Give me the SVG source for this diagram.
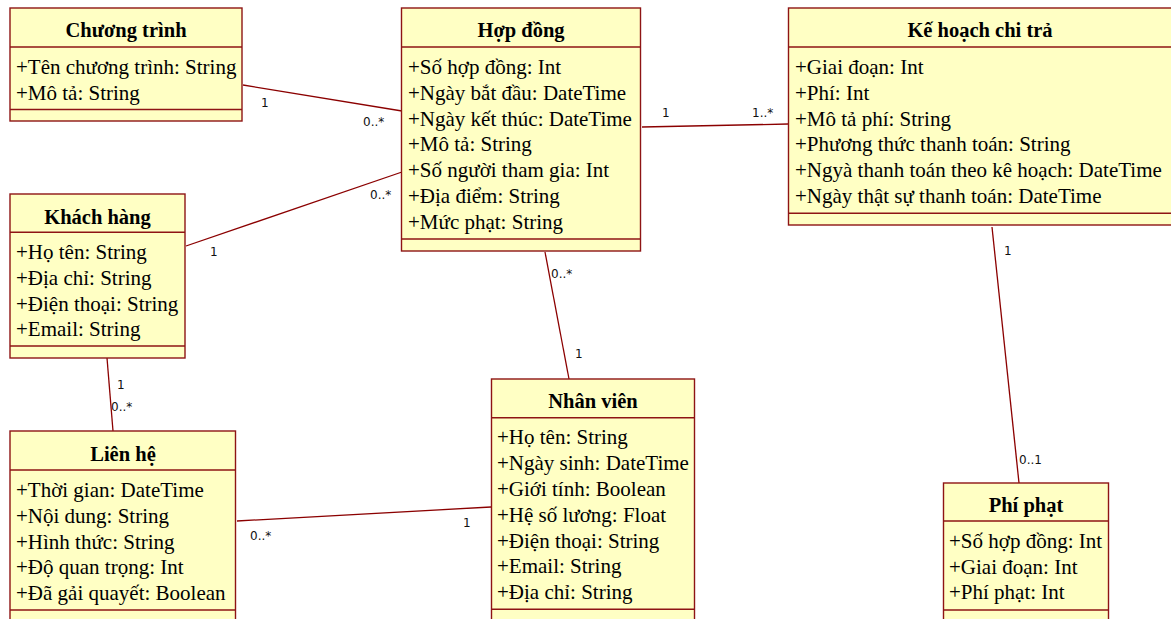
<svg xmlns="http://www.w3.org/2000/svg" width="1171" height="619" viewBox="0 0 1171 619">
  <style>
    .box { fill: #FFFFC4; stroke: #8E1414; stroke-width: 1.4; }
    .sep { stroke: #8E1414; stroke-width: 1.4; }
    .title { font-family: "Liberation Serif", "Times New Roman", serif; font-weight: bold; font-size: 20.5px; fill: #000; text-anchor: middle; }
    .attr { font-family: "Liberation Serif", "Times New Roman", serif; font-size: 21px; fill: #000; }
    .edge { stroke: #8B0000; stroke-width: 1.3; fill: none; }
    .mult { font-family: "DejaVu Sans", Verdana, sans-serif; font-size: 12px; fill: #111; }
  </style>
  <rect width="1171" height="619" fill="#fff"/>

  <!-- associations -->
  <g id="connectors">
    <line class="edge" x1="243" y1="85" x2="402" y2="111"/>
    <text class="mult" x="261" y="107">1</text>
    <text class="mult" x="363" y="126">0..*</text>

    <line class="edge" x1="186" y1="246" x2="402" y2="172"/>
    <text class="mult" x="210" y="256">1</text>
    <text class="mult" x="370" y="199">0..*</text>

    <line class="edge" x1="642" y1="127" x2="788" y2="124"/>
    <text class="mult" x="662" y="117">1</text>
    <text class="mult" x="752" y="117">1..*</text>

    <line class="edge" x1="545" y1="252" x2="569" y2="379"/>
    <text class="mult" x="551" y="278">0..*</text>
    <text class="mult" x="575" y="358">1</text>

    <line class="edge" x1="107" y1="358" x2="113" y2="431"/>
    <text class="mult" x="117" y="389">1</text>
    <text class="mult" x="111" y="411">0..*</text>

    <line class="edge" x1="237" y1="521" x2="491" y2="507"/>
    <text class="mult" x="250" y="540">0..*</text>
    <text class="mult" x="463" y="527">1</text>

    <line class="edge" x1="992" y1="227" x2="1019" y2="483"/>
    <text class="mult" x="1004" y="255">1</text>
    <text class="mult" x="1019" y="464">0..1</text>
  </g>

  <g id="chuong-trinh">
    <rect class="box" x="10" y="8" width="232" height="113"/>
    <line class="sep" x1="10" y1="47" x2="242" y2="47"/>
    <line class="sep" x1="10" y1="109.5" x2="242" y2="109.5"/>
    <text class="title" x="126" y="37">Chương trình</text>
    <text class="attr" x="16" y="74">+Tên chương trình: String</text>
    <text class="attr" x="16" y="100">+Mô tả: String</text>
  </g>

  <g id="hop-dong">
    <rect class="box" x="401.5" y="8" width="239" height="243"/>
    <line class="sep" x1="401.5" y1="47" x2="640.5" y2="47"/>
    <line class="sep" x1="401.5" y1="239" x2="640.5" y2="239"/>
    <text class="title" x="521" y="37">Hợp đồng</text>
    <text class="attr" x="408" y="74">+Số hợp đồng: Int</text>
    <text class="attr" x="408" y="99.8">+Ngày bắt đầu: DateTime</text>
    <text class="attr" x="408" y="125.6">+Ngày kết thúc: DateTime</text>
    <text class="attr" x="408" y="151.4">+Mô tả: String</text>
    <text class="attr" x="408" y="177.2">+Số người tham gia: Int</text>
    <text class="attr" x="408" y="203">+Địa điểm: String</text>
    <text class="attr" x="408" y="228.8">+Mức phạt: String</text>
  </g>

  <g id="ke-hoach-chi-tra">
    <rect class="box" x="788.5" y="8" width="390" height="217"/>
    <line class="sep" x1="788.5" y1="47" x2="1178" y2="47"/>
    <line class="sep" x1="788.5" y1="213.3" x2="1178" y2="213.3"/>
    <text class="title" x="980" y="37">Kế hoạch chi trả</text>
    <text class="attr" x="795" y="74">+Giai đoạn: Int</text>
    <text class="attr" x="795" y="99.8">+Phí: Int</text>
    <text class="attr" x="795" y="125.6">+Mô tả phí: String</text>
    <text class="attr" x="795" y="151.4">+Phương thức thanh toán: String</text>
    <text class="attr" x="795" y="177.2">+Ngyà thanh toán theo kê hoạch: DateTime</text>
    <text class="attr" x="795" y="203">+Ngày thật sự thanh toán: DateTime</text>
  </g>

  <g id="khach-hang">
    <rect class="box" x="10" y="194" width="175" height="164"/>
    <line class="sep" x1="10" y1="232.3" x2="185" y2="232.3"/>
    <line class="sep" x1="10" y1="346" x2="185" y2="346"/>
    <text class="title" x="97.5" y="223.5">Khách hàng</text>
    <text class="attr" x="16" y="259">+Họ tên: String</text>
    <text class="attr" x="16" y="284.8">+Địa chỉ: String</text>
    <text class="attr" x="16" y="310.6">+Điện thoại: String</text>
    <text class="attr" x="16" y="336.4">+Email: String</text>
  </g>

  <g id="lien-he">
    <rect class="box" x="10" y="431" width="225.5" height="195"/>
    <line class="sep" x1="10" y1="470" x2="235.5" y2="470"/>
    <line class="sep" x1="10" y1="610" x2="235.5" y2="610"/>
    <text class="title" x="123" y="460.5">Liên hệ</text>
    <text class="attr" x="16" y="497">+Thời gian: DateTime</text>
    <text class="attr" x="16" y="522.8">+Nội dung: String</text>
    <text class="attr" x="16" y="548.6">+Hình thức: String</text>
    <text class="attr" x="16" y="574.4">+Độ quan trọng: Int</text>
    <text class="attr" x="16" y="600.2">+Đã gải quayết: Boolean</text>
  </g>

  <g id="nhan-vien">
    <rect class="box" x="491.5" y="379" width="203" height="247"/>
    <line class="sep" x1="491.5" y1="417.7" x2="694.5" y2="417.7"/>
    <line class="sep" x1="491.5" y1="609.3" x2="694.5" y2="609.3"/>
    <text class="title" x="593" y="408">Nhân viên</text>
    <text class="attr" x="497" y="444.4">+Họ tên: String</text>
    <text class="attr" x="497" y="470.2">+Ngày sinh: DateTime</text>
    <text class="attr" x="497" y="496">+Giới tính: Boolean</text>
    <text class="attr" x="497" y="521.8">+Hệ số lương: Float</text>
    <text class="attr" x="497" y="547.6">+Điện thoại: String</text>
    <text class="attr" x="497" y="573.4">+Email: String</text>
    <text class="attr" x="497" y="599.2">+Địa chỉ: String</text>
  </g>

  <g id="phi-phat">
    <rect class="box" x="943.5" y="483" width="165" height="143"/>
    <line class="sep" x1="943.5" y1="521" x2="1108.5" y2="521"/>
    <line class="sep" x1="943.5" y1="610" x2="1108.5" y2="610"/>
    <text class="title" x="1026" y="512">Phí phạt</text>
    <text class="attr" x="949" y="547.7">+Số hợp đồng: Int</text>
    <text class="attr" x="949" y="573.5">+Giai đoạn: Int</text>
    <text class="attr" x="949" y="599.3">+Phí phạt: Int</text>
  </g>
</svg>
